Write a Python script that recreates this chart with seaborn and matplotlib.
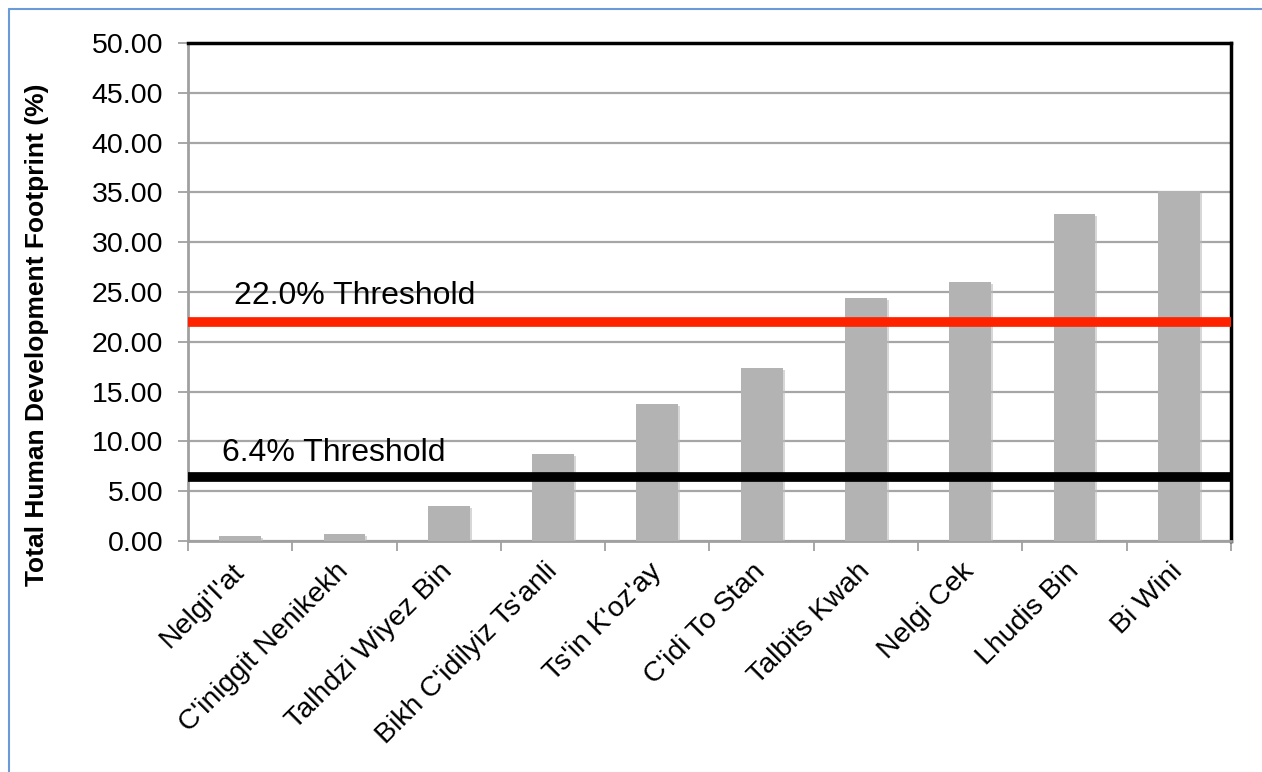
import matplotlib
matplotlib.use("Agg")
import matplotlib.pyplot as plt
import matplotlib.patheffects as pe
import matplotlib.transforms as mtransforms
from matplotlib.lines import Line2D
from matplotlib.ticker import FixedLocator, FormatStrFormatter
import numpy as np
import pandas as pd
import seaborn as sns

# Watershed footprint data
watersheds = ["Nelgi'I'at", "C'iniggit Nenikekh", "Talhdzi Wiyez Bin",
              "Bikh C'idilyiz Ts'anli", "Ts'in K'oz'ay", "C'idi To Stan",
              "Talbits Kwah", "Nelgi Cek", "Lhudis Bin", "Bi Wini"]
footprint = [0.55, 0.7, 3.5, 8.7, 13.8, 17.4, 24.4, 26.0, 32.8, 35.1]

thresholds = [22.0, 6.4]
threshold_labels = ["22.0% Threshold", "6.4% Threshold"]
threshold_colors = ["#ff2200", "#000000"]

y_ticks = [0, 5, 10, 15, 20, 25, 30, 35, 40, 45, 50]

sns.set_theme(style="white")
plt.rcParams["font.family"] = ["Liberation Sans", "DejaVu Sans"]
plt.rcParams["text.color"] = "black"
plt.rcParams["xtick.color"] = "black"
plt.rcParams["ytick.color"] = "black"

df = pd.DataFrame({"watershed": watersheds, "footprint": footprint})

fig = plt.figure(figsize=(12.62, 7.72), dpi=100)
ax = fig.add_axes([0.149, 0.2992, 0.8264, 0.6451])

sns.barplot(data=df, x="watershed", y="footprint", color="#b3b3b3",
            saturation=1, width=0.4, ax=ax, zorder=3)
for bar in ax.patches:
    bar.set_edgecolor("none")
    bar.set_path_effects([pe.SimplePatchShadow(offset=(1.5, -1.5), shadow_rgbFace="#bdbdbd", alpha=0.6),
                          pe.Normal()])

ax.set_ylim(0, 50)
ax.set_xlim(-0.5, len(watersheds) - 0.5)
ax.yaxis.set_major_locator(FixedLocator(y_ticks))
ax.yaxis.set_major_formatter(FormatStrFormatter("%.2f"))
ax.grid(axis="y", color="#a6a6a6", linewidth=1.6, zorder=0)
ax.set_axisbelow(True)

# Threshold lines with their labels
ax.axhline(thresholds[0], color=threshold_colors[0], linewidth=7, zorder=4)
ax.axhline(thresholds[1], color=threshold_colors[1], linewidth=7, zorder=4)
ax.text(-0.06, thresholds[0] + 2.6, threshold_labels[0], fontsize=23, va="center", ha="left", zorder=5)
ax.text(-0.17, thresholds[1] + 2.4, threshold_labels[1], fontsize=23, va="center", ha="left", zorder=5)

# Spines
for side in ["left", "bottom"]:
    ax.spines[side].set_color("#a0a0a0")
    ax.spines[side].set_linewidth(2)
for side in ["top", "right"]:
    ax.spines[side].set_color("black")
    ax.spines[side].set_linewidth(2.5)

# Ticks: category boundaries on x, outward ticks on y
ax.set_xticks(np.arange(len(watersheds)))
ax.set_xticklabels(watersheds, rotation=45, ha="right", va="center",
                   rotation_mode="anchor", fontsize=20.5)
shift = mtransforms.ScaledTranslation(10 / 100, 0, fig.dpi_scale_trans)
for lbl in ax.get_xticklabels():
    lbl.set_transform(lbl.get_transform() + shift)
ax.set_xticks(np.arange(len(watersheds) + 1) - 0.5, minor=True)
ax.tick_params(axis="x", which="major", length=0, pad=19)
ax.tick_params(axis="x", which="minor", bottom=True, length=7, width=1.3, color="#a0a0a0", direction="out")
ax.tick_params(axis="y", which="major", left=True, length=7, width=1.3, color="#a0a0a0",
               direction="out", labelsize=20.5, pad=11)

ax.set_xlabel("")
ax.set_ylabel("")
fig.text(37 / 1262, 1 - 335 / 772, "Total Human Development Footprint (%)", rotation=90,
         fontsize=19, fontweight="bold", ha="center", va="center")

# Light blue frame along the top and left edges of the figure
fig.add_artist(Line2D([9 / 1262, 9 / 1262], [0, 1 - 9 / 772], transform=fig.transFigure,
                      color="#6a9bd8", linewidth=1.5))
fig.add_artist(Line2D([9 / 1262, 1], [1 - 9 / 772, 1 - 9 / 772], transform=fig.transFigure,
                      color="#6a9bd8", linewidth=1.5))

fig.savefig("out.png", dpi=100)
